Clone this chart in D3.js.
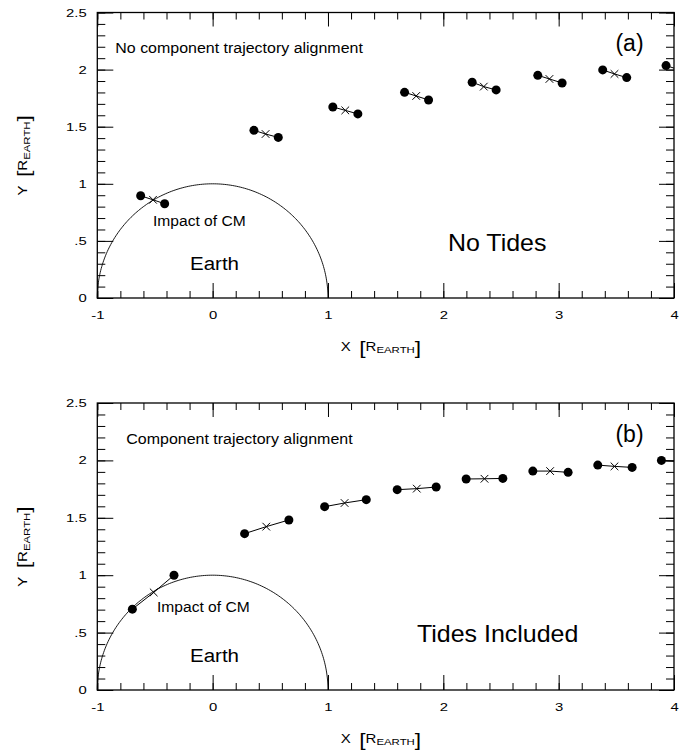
<!DOCTYPE html>
<html>
<head>
<meta charset="utf-8">
<script src="https://cdn.jsdelivr.net/npm/d3@7"></script>
<style>
  html, body { margin: 0; padding: 0; background: #fff; }
  svg { display: block; font-family: "Liberation Sans", Arial, Helvetica, sans-serif; }
</style>
</head>
<body>
<svg id="chart" width="689" height="754"></svg>
<script>
// ---------- tick labels ----------
const xTickValues = [-1, 0, 1, 2, 3, 4];
const xTickLabels = ["-1", "0", "1", "2", "3", "4"];
const yTickValues = [0, 0.5, 1, 1.5, 2, 2.5];
const yTickLabels = ["0", ".5", "1", "1.5", "2", "2.5"];

// ---------- panel (a): no tides ----------
const aFrontX = [-0.624, 0.358, 1.042, 1.664, 2.250, 2.819, 3.382, 3.931];
const aFrontY = [0.895, 1.468, 1.673, 1.801, 1.889, 1.950, 1.997, 2.035];
const aCmX    = [-0.517, 0.459, 1.150, 1.765, 2.351, 2.920, 3.484, 4.040];
const aCmY    = [0.860, 1.436, 1.643, 1.769, 1.851, 1.918, 1.962, 2.000];
const aBackX  = [-0.416, 0.569, 1.259, 1.872, 2.458, 3.030, 3.590, 4.140];
const aBackY  = [0.825, 1.406, 1.612, 1.734, 1.822, 1.883, 1.930, 1.970];

// ---------- panel (b): tides included ----------
const bFrontX = [-0.696, 0.277, 0.971, 1.600, 2.198, 2.776, 3.339, 3.891];
const bFrontY = [0.704, 1.362, 1.597, 1.745, 1.838, 1.907, 1.959, 2.000];
const bCmX    = [-0.511, 0.465, 1.144, 1.770, 2.357, 2.926, 3.484, 4.040];
const bCmY    = [0.850, 1.423, 1.629, 1.754, 1.840, 1.907, 1.948, 1.990];
const bBackX  = [-0.335, 0.661, 1.332, 1.938, 2.516, 3.082, 3.637, 4.190];
const bBackY  = [1.000, 1.481, 1.658, 1.768, 1.843, 1.896, 1.939, 1.980];

const earthRadius = 1;

const svg = d3.select("#chart");
const FONT_TICK = 11, SX_TICK = 1.35;

function stretchedText(g, x, y, str, size, sx, anchor) {
  return g.append("text")
    .attr("transform", `translate(${x},${y}) scale(${sx},1)`)
    .attr("font-size", size)
    .attr("text-anchor", anchor || "start")
    .attr("fill", "#000")
    .text(str);
}

function unitLabel(g, tx, ty, rotate, axisLetter) {
  const t = g.append("text")
    .attr("transform", `translate(${tx},${ty})${rotate ? " rotate(-90)" : ""} scale(1.2,1)`)
    .attr("text-anchor", "middle")
    .attr("fill", "#000");
  t.append("tspan").attr("font-size", 12.5).text(axisLetter);
  t.append("tspan").attr("font-size", 19).attr("dx", 7).attr("dy", 3).text("[");
  t.append("tspan").attr("font-size", 12.5).attr("dy", -3).text("R");
  t.append("tspan").attr("font-size", 9.5).attr("dy", 2.5).text("EARTH");
  t.append("tspan").attr("font-size", 19).attr("dy", 0.5).text("]");
}

function panel(cfg) {
  const left = 97.3, right = 674, top = cfg.top, bottom = cfg.bottom;
  const x = d3.scaleLinear().domain([-1, 4]).range([left, right]);
  const y = d3.scaleLinear().domain([0, 2.5]).range([bottom, top]);
  const g = svg.append("g");

  const clipId = "clip" + cfg.id;
  svg.append("clipPath").attr("id", clipId)
    .append("rect").attr("x", left).attr("y", top)
    .attr("width", right - left).attr("height", bottom - top);

  const xMinor = x.ticks(25);
  const yMinor = y.ticks(25);

  function styleAxis(sel) {
    sel.selectAll(".domain").remove();
    sel.selectAll(".tick line").attr("stroke", "#000").attr("stroke-width", 1);
  }

  // bottom axis: minor + major
  g.append("g").attr("transform", `translate(0,${bottom})`)
    .call(d3.axisBottom(x).tickValues(xMinor).tickSizeInner(-7).tickSizeOuter(0).tickFormat(""))
    .call(styleAxis);
  const bx = g.append("g").attr("transform", `translate(0,${bottom})`)
    .call(d3.axisBottom(x).tickValues(xTickValues).tickSizeInner(-15).tickSizeOuter(0)
      .tickFormat((d, i) => xTickLabels[i]))
    .call(styleAxis);
  bx.selectAll(".tick text")
    .attr("y", 21.5).attr("dy", 0)
    .attr("transform", `scale(${SX_TICK},1)`)
    .attr("font-size", FONT_TICK).attr("font-family", null).attr("fill", "#000");

  // top axis
  g.append("g").attr("transform", `translate(0,${top})`)
    .call(d3.axisTop(x).tickValues(xMinor).tickSizeInner(-7).tickSizeOuter(0).tickFormat(""))
    .call(styleAxis);
  g.append("g").attr("transform", `translate(0,${top})`)
    .call(d3.axisTop(x).tickValues(xTickValues).tickSizeInner(-14).tickSizeOuter(0).tickFormat(""))
    .call(styleAxis);

  // left axis
  g.append("g").attr("transform", `translate(${left},0)`)
    .call(d3.axisLeft(y).tickValues(yMinor).tickSizeInner(-8).tickSizeOuter(0).tickFormat(""))
    .call(styleAxis);
  const ly = g.append("g").attr("transform", `translate(${left},0)`)
    .call(d3.axisLeft(y).tickValues(yTickValues).tickSizeInner(-16).tickSizeOuter(0)
      .tickFormat((d, i) => yTickLabels[i]))
    .call(styleAxis);
  ly.selectAll(".tick text")
    .attr("x", -10.6 / SX_TICK)
    .attr("transform", `scale(${SX_TICK},1)`)
    .attr("font-size", FONT_TICK).attr("font-family", null).attr("fill", "#000");

  // right axis
  g.append("g").attr("transform", `translate(${right},0)`)
    .call(d3.axisRight(y).tickValues(yMinor).tickSizeInner(-8).tickSizeOuter(0).tickFormat(""))
    .call(styleAxis);
  g.append("g").attr("transform", `translate(${right},0)`)
    .call(d3.axisRight(y).tickValues(yTickValues).tickSizeInner(-15).tickSizeOuter(0).tickFormat(""))
    .call(styleAxis);

  // frame
  g.append("rect").attr("x", left).attr("y", top)
    .attr("width", right - left).attr("height", bottom - top)
    .attr("fill", "none").attr("stroke", "#000").attr("stroke-width", 1.3);

  // Earth (upper half circle)
  const angles = d3.range(0, 181, 1).map(a => a * Math.PI / 180);
  const earthLine = d3.line()
    .x(a => x(earthRadius * Math.cos(a)))
    .y(a => y(earthRadius * Math.sin(a)));
  g.append("path").attr("d", earthLine(angles))
    .attr("fill", "none").attr("stroke", "#000").attr("stroke-width", 0.9);

  // data
  const marks = g.append("g").attr("clip-path", `url(#${clipId})`);
  const pairs = cfg.fx.map((_, i) => ({
    fx: cfg.fx[i], fy: cfg.fy[i], cx: cfg.cx[i], cy: cfg.cy[i], bx: cfg.bx[i], by: cfg.by[i]
  }));
  const seg = d3.line().x(d => x(d[0])).y(d => y(d[1]));
  marks.selectAll("path.seg").data(pairs).join("path")
    .attr("class", "seg")
    .attr("d", d => seg([[d.fx, d.fy], [d.cx, d.cy], [d.bx, d.by]]))
    .attr("fill", "none").attr("stroke", "#000").attr("stroke-width", 1);
  const cross = d3.symbol(d3.symbolX, 40);
  marks.selectAll("path.cm").data(pairs).join("path")
    .attr("class", "cm")
    .attr("transform", d => `translate(${x(d.cx)},${y(d.cy)})`)
    .attr("d", cross)
    .attr("fill", "none").attr("stroke", "#000").attr("stroke-width", 1);
  const dots = pairs.flatMap(d => [[d.fx, d.fy], [d.bx, d.by]]);
  marks.selectAll("circle").data(dots).join("circle")
    .attr("cx", d => x(d[0])).attr("cy", d => y(d[1])).attr("r", 4.5)
    .attr("fill", "#000");

  // annotations
  stretchedText(g, left + 18 + cfg.titleDx, top + cfg.titleDy, cfg.title, 15, 1.065, "start");
  stretchedText(g, 629.5, cfg.tagY, cfg.tag, 23, 1.0, "middle");
  stretchedText(g, cfg.impactX, cfg.impactY, "Impact of CM", 15.3, 1.02, "start");
  stretchedText(g, 190, cfg.earthY, "Earth", 19, 1.08, "start");
  stretchedText(g, cfg.bigX, cfg.bigY, cfg.big, 24, 1.04, "start");

  // axis titles
  unitLabel(g, 381, bottom + 52.7, false, "X");
  unitLabel(g, 27, (top + bottom) / 2, true, "Y");
}

panel({
  id: "a", top: 12.5, bottom: 298,
  fx: aFrontX, fy: aFrontY, cx: aCmX, cy: aCmY, bx: aBackX, by: aBackY,
  title: "No component trajectory alignment", titleDx: 0, titleDy: 40.8,
  tag: "(a)", tagY: 50.7,
  impactX: 153, impactY: 226,
  earthY: 270,
  big: "No Tides", bigX: 448, bigY: 250.7
});

panel({
  id: "b", top: 403, bottom: 690,
  fx: bFrontX, fy: bFrontY, cx: bCmX, cy: bCmY, bx: bBackX, by: bBackY,
  title: "Component trajectory alignment", titleDx: 11, titleDy: 41,
  tag: "(b)", tagY: 441.7,
  impactX: 157, impactY: 611.7,
  earthY: 662,
  big: "Tides Included", bigX: 417, bigY: 642.3
});
</script>
</body>
</html>
